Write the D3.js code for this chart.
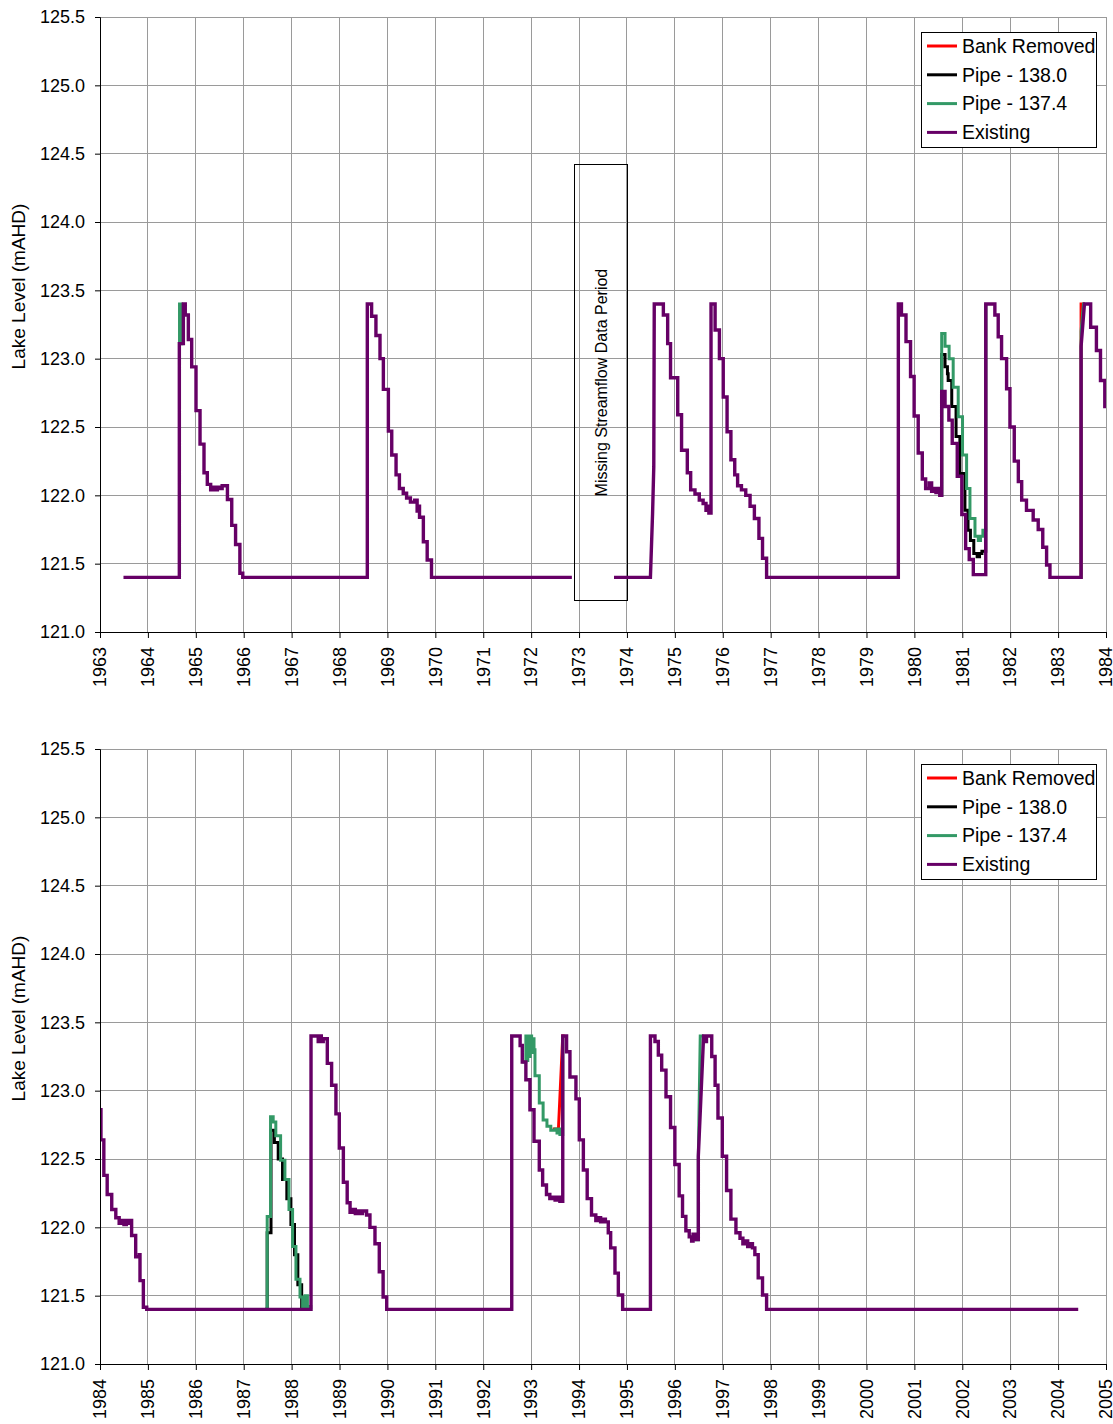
<!DOCTYPE html>
<html><head><meta charset="utf-8">
<script src="https://cdn.jsdelivr.net/npm/d3@7"></script>
<style>
body{margin:0;background:#fff;}
text{font-family:Arial,"Liberation Sans",sans-serif;fill:#000;}
</style>
</head><body>
<svg id="chart" width="1113" height="1424"></svg>
<script>
// ---------- DATA ----------
const seriesNames  = ["Bank Removed", "Pipe - 138.0", "Pipe - 137.4", "Existing"];
const seriesColors = ["#ff0000", "#000000", "#339966", "#660066"];
const levelTicks = [121.0, 121.5, 122.0, 122.5, 123.0, 123.5, 124.0, 124.5, 125.0, 125.5];
const yearRanges = [[1963, 1984], [1984, 2005]];
const missingLabel = "Missing Streamflow Data Period";
const missingYears = [1972.9, 1974.02];
const missingLevels = [121.23, 124.42];

// step points: [year, level] = level from this year on; third item 's' = sloped to this point
const existing1963a = [
 [1963.49,121.40],[1964.656,123.11],[1964.74,123.40],[1964.78,123.32],[1964.844,123.14],
 [1964.914,122.94],[1965.004,122.62],[1965.088,122.375],[1965.171,122.165],[1965.24,122.08],
 [1965.31,122.04],[1965.36,122.06],[1965.40,122.04],[1965.45,122.06],[1965.50,122.05],
 [1965.55,122.07],[1965.66,121.97],[1965.75,121.78],[1965.83,121.64],[1965.92,121.43],
 [1965.98,121.40],[1968.58,123.40],[1968.67,123.31],[1968.76,123.17],[1968.845,123.00],
 [1968.915,122.775],[1969.02,122.47],[1969.09,122.295],[1969.18,122.15],[1969.25,122.05],
 [1969.33,122.015],[1969.40,121.98],[1969.48,121.95],[1969.57,121.965],[1969.62,121.885],
 [1969.66,121.92],[1969.67,121.84],[1969.75,121.66],[1969.83,121.527],[1969.92,121.40],
 [1972.85,121.40]
];
const existing1963b = [
 [1973.73,121.40],[1974.49,121.40],[1974.535,121.87,'s'],[1974.56,122.21,'s'],[1974.57,123.40,'s'],
 [1974.76,123.32],[1974.85,123.11],[1974.91,122.86],[1975.06,122.59],[1975.14,122.33],
 [1975.26,122.165],[1975.33,122.04],[1975.42,122.01],[1975.51,121.965],[1975.59,121.94],
 [1975.65,121.89],[1975.69,121.92],[1975.71,121.87],[1975.755,123.40],[1975.84,123.21],
 [1975.93,123.00],[1976.01,122.72],[1976.09,122.465],[1976.17,122.26],[1976.25,122.15],
 [1976.31,122.07],[1976.39,122.04],[1976.48,122.00],[1976.57,121.92],[1976.66,121.83],
 [1976.755,121.685],[1976.83,121.54],[1976.915,121.40],[1979.665,123.40],[1979.73,123.32],
 [1979.825,123.125],[1979.92,122.87],[1979.995,122.58],[1980.08,122.31],[1980.165,122.12],
 [1980.235,122.05],[1980.31,122.09],[1980.36,122.03],[1980.40,122.05],[1980.45,122.02],
 [1980.48,122.05],[1980.53,122.00],[1980.57,122.76],[1980.64,122.65],[1980.72,122.55],
 [1980.79,122.38],[1980.895,122.14],[1980.99,121.86],[1981.07,121.61],[1981.145,121.53],
 [1981.23,121.42],[1981.49,123.40],[1981.68,123.32],[1981.75,123.16],[1981.82,123.00],
 [1981.925,122.78],[1981.995,122.50],[1982.085,122.25],[1982.17,122.10],[1982.24,121.965],
 [1982.34,121.89],[1982.48,121.82],[1982.585,121.75],[1982.68,121.62],[1982.76,121.49],
 [1982.83,121.40],[1983.48,123.09],[1983.55,123.40,'s'],[1983.68,123.23],[1983.80,123.06],
 [1983.885,122.84],[1983.975,122.65],[1984.0,122.65]
];
const existing1984 = [
 [1984.0,122.86],[1984.02,122.64],[1984.08,122.38],[1984.15,122.24],[1984.245,122.13],
 [1984.33,122.07],[1984.40,122.03],[1984.45,122.05],[1984.50,122.02],[1984.55,122.05],
 [1984.60,122.03],[1984.62,122.05],[1984.66,121.94],[1984.745,121.785],[1984.82,121.80],
 [1984.835,121.61],[1984.905,121.415],[1984.975,121.40],[1988.405,123.40],[1988.555,123.36],
 [1988.59,123.40],[1988.62,123.36],[1988.66,123.38],[1988.745,123.20],[1988.835,123.04],
 [1988.925,122.83],[1988.995,122.58],[1989.08,122.33],[1989.16,122.18],[1989.22,122.11],
 [1989.28,122.13],[1989.33,122.10],[1989.38,122.12],[1989.43,122.10],[1989.48,122.12],
 [1989.565,122.09],[1989.635,122.00],[1989.74,121.88],[1989.83,121.675],[1989.91,121.49],
 [1989.985,121.40],[1992.595,123.40],[1992.77,123.33],[1992.815,123.21],[1992.89,123.08],
 [1992.975,122.86],[1993.06,122.63],[1993.17,122.42],[1993.24,122.31],[1993.32,122.24],
 [1993.39,122.21],[1993.45,122.22],[1993.50,122.20],[1993.55,122.22],[1993.60,122.19],
 [1993.66,123.40],[1993.74,123.285],[1993.81,123.10],[1993.935,122.94],[1994.005,122.64],
 [1994.09,122.42],[1994.17,122.21],[1994.26,122.09],[1994.35,122.05],[1994.40,122.07],
 [1994.45,122.04],[1994.50,122.06],[1994.55,122.04],[1994.61,121.96],[1994.66,121.85],
 [1994.75,121.665],[1994.82,121.505],[1994.91,121.40],[1995.49,123.40],[1995.585,123.36],
 [1995.655,123.26],[1995.725,123.15],[1995.815,122.955],[1995.91,122.73],[1996.00,122.46],
 [1996.09,122.23],[1996.16,122.08],[1996.23,121.975],[1996.30,121.93],[1996.35,121.90],
 [1996.38,121.95],[1996.42,121.91],[1996.49,122.52],[1996.60,123.40,'s'],[1996.63,123.36],
 [1996.66,123.40],[1996.77,123.25],[1996.84,123.04],[1996.90,122.80],[1996.99,122.52],
 [1997.08,122.27],[1997.17,122.06],[1997.275,121.96],[1997.36,121.92],[1997.42,121.88],
 [1997.47,121.90],[1997.52,121.86],[1997.57,121.88],[1997.62,121.85],[1997.67,121.80],
 [1997.74,121.63],[1997.83,121.505],[1997.915,121.40],[2004.42,121.40]
];
// scenario segments that differ from Existing
const bankRemoved = [
 [[1983.47,121.40],[1983.48,123.40],[1983.56,123.40]],
 [[1993.45,122.72],[1993.57,122.72],[1993.66,123.40,'s'],[1993.70,123.40]]
];
const pipe1380 = [
 [[1980.565,122.00],[1980.57,123.03],[1980.64,122.94],[1980.69,122.89],[1980.705,122.84],
  [1980.78,122.65],[1980.87,122.43],[1980.95,122.16],[1981.055,121.89],[1981.12,121.745],
  [1981.17,121.67],[1981.24,121.575],[1981.31,121.55],[1981.36,121.575],[1981.41,121.59],
  [1981.46,121.59],[1981.49,123.40]],
 [[1987.45,121.40],[1987.49,121.96],[1987.57,122.71],[1987.64,122.62],[1987.72,122.50],
  [1987.81,122.35],[1987.90,122.21],[1987.985,122.02],[1988.06,121.80],[1988.13,121.58],
  [1988.21,121.42],[1988.30,121.40]]
];
const pipe1374 = [
 [[1964.65,121.40],[1964.66,123.40],[1964.70,123.11],[1964.74,123.11]],
 [[1980.565,122.00],[1980.57,123.185],[1980.64,123.09],[1980.725,123.00],[1980.81,122.79],
  [1980.915,122.575],[1981.005,122.295],[1981.09,122.05],[1981.16,121.83],[1981.265,121.70],
  [1981.335,121.67],[1981.38,121.70],[1981.43,121.745],[1981.46,121.745],[1981.49,123.40]],
 [[1983.47,121.40],[1983.48,123.20],[1983.53,123.40,'s'],[1983.56,123.40]],
 [[1987.45,121.40],[1987.49,122.08],[1987.56,122.81],[1987.615,122.77],[1987.67,122.67],
  [1987.77,122.49],[1987.86,122.35],[1987.945,122.13],[1988.02,121.86],[1988.09,121.62],
  [1988.175,121.49],[1988.23,121.42],[1988.28,121.50],[1988.33,121.42],[1988.40,121.40]],
 [[1992.815,123.21],[1992.89,123.40],[1992.91,123.22],[1992.93,123.40],[1992.96,123.25],
  [1992.98,123.40],[1993.01,123.28],[1993.03,123.38],[1993.06,123.30],[1993.08,123.11],
  [1993.17,122.91],[1993.25,122.785],[1993.33,122.74],[1993.41,122.71],[1993.50,122.72],
  [1993.54,122.69],[1993.58,122.72],[1993.60,122.68],[1993.66,123.40]],
 [[1996.42,121.91],[1996.49,122.52],[1996.53,123.40,'s'],[1996.60,123.40]]
];

// ---------- DRAW ----------
const svg = d3.select("#chart");
const W = 1006, H = 615, left = 100, tops = [17, 749];
const FONT = 18;

function expand(pts){
  const out = [];
  pts.forEach((p,i)=>{
    if(i>0 && p[2] !== 's') out.push([p[0], pts[i-1][1]]);
    out.push([p[0], p[1]]);
  });
  return out;
}

const panelData = [
  {existing:[existing1963a, existing1963b], missing:true},
  {existing:[existing1984], missing:false}
];

yearRanges.forEach((yr, pi) => {
  const g = svg.append("g").attr("transform", `translate(${left},${tops[pi]})`);
  const x = d3.scaleLinear().domain(yr).range([0, W]);
  const y = d3.scaleLinear().domain([121.0, 125.5]).range([H, 0]);
  const years = d3.range(yr[0], yr[1] + 1);

  // gridlines
  g.append("g").selectAll("line.v").data(years.slice(1)).join("line")
    .attr("x1", d=>x(d)).attr("x2", d=>x(d)).attr("y1", 0).attr("y2", H)
    .attr("stroke", "#9a9a9a").attr("stroke-width", 1).attr("shape-rendering","crispEdges");
  g.append("g").selectAll("line.h").data(levelTicks.slice(1)).join("line")
    .attr("x1", 0).attr("x2", W).attr("y1", d=>y(d)).attr("y2", d=>y(d))
    .attr("stroke", "#9a9a9a").attr("stroke-width", 1).attr("shape-rendering","crispEdges");

  // missing data box
  if (panelData[pi].missing) {
    const bx = x(missingYears[0]), bw = x(missingYears[1]) - bx;
    const by = y(missingLevels[1]), bh = y(missingLevels[0]) - by;
    g.append("rect").attr("x", bx).attr("y", by).attr("width", bw).attr("height", bh)
      .attr("fill", "none").attr("stroke", "#000").attr("stroke-width", 1).attr("shape-rendering","crispEdges");
    g.append("text").attr("transform", `translate(${bx + bw/2},${by + bh/2}) rotate(-90)`)
      .attr("text-anchor", "middle").attr("dy", "0.35em").style("font-size", "16px")
      .text(missingLabel);
  }

  const line = d3.line().x(d=>x(d[0])).y(d=>y(d[1]));
  const clipId = "clip" + pi;
  g.append("clipPath").attr("id", clipId).append("rect").attr("x",0).attr("y",-5).attr("width",W).attr("height",H+5);
  const lines = g.append("g").attr("clip-path", `url(#${clipId})`);
  const groups = [bankRemoved, pipe1380, pipe1374, panelData[pi].existing];
  groups.forEach((segs, si) => {
    segs.filter(s => s[0][0] < yr[1] && s[0][0] >= yr[0] - 0.001)
      .forEach(s => {
        lines.append("path").attr("d", line(expand(s)))
          .attr("fill", "none").attr("stroke", seriesColors[si])
          .attr("stroke-width", si === 3 ? 3.4 : 3).attr("stroke-linejoin", "miter");
      });
  });

  // axes
  const ya = g.append("g").call(d3.axisLeft(y).tickValues(levelTicks).tickFormat(d3.format(".1f")).tickSize(5).tickPadding(10));
  ya.selectAll("text").style("font-size", FONT + "px");
  ya.select(".domain").attr("stroke", "#000");
  const xa = g.append("g").attr("transform", `translate(0,${H})`)
    .call(d3.axisBottom(x).tickValues(years).tickFormat(d3.format("d")).tickSize(6));
  xa.selectAll("text").attr("transform", "rotate(-90)").attr("text-anchor", "end")
    .attr("x", -15).attr("y", 0).attr("dy", "0.32em").style("font-size", FONT + "px");

  // y label
  g.append("text").attr("transform", `translate(${18 - left},${H/2 - 38}) rotate(-90)`)
    .attr("text-anchor", "middle").attr("dy", "0.35em").style("font-size", "19px")
    .text("Lake Level (mAHD)");

  // legend
  const lg = g.append("g").attr("transform", `translate(${921 - left},${32 - tops[0]})`);
  lg.append("rect").attr("width", 175).attr("height", 115).attr("fill", "#fff")
    .attr("stroke", "#000").attr("stroke-width", 1).attr("shape-rendering","crispEdges");
  seriesNames.forEach((n, i) => {
    const ry = 14 + i * 28.8;
    lg.append("line").attr("x1", 6).attr("x2", 36).attr("y1", ry).attr("y2", ry)
      .attr("stroke", seriesColors[i]).attr("stroke-width", 3);
    lg.append("text").attr("x", 41).attr("y", ry).attr("dy", "0.35em")
      .style("font-size", "19.5px").text(n);
  });
});
</script>
</body></html>
